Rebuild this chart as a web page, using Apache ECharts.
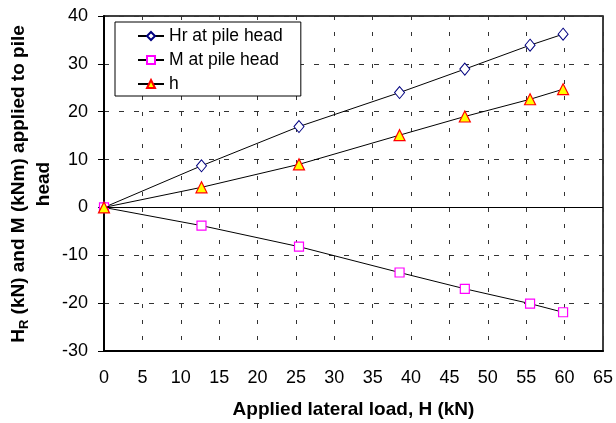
<!DOCTYPE html>
<html><head><meta charset="utf-8">
<script src="https://cdn.jsdelivr.net/npm/echarts@6/dist/echarts.min.js"></script>
<style>html,body{margin:0;padding:0;background:#fff}#c{width:616px;height:423px}</style>
</head><body><div id="c"></div>
<script>
const loads = [0, 12.7, 25.4, 38.5, 47, 55.5, 59.8];
const hrHead = [0, 8.7, 16.9, 24.0, 28.9, 33.9, 36.2];
const mHead = [0, -3.8, -8.2, -13.6, -17.0, -20.1, -21.9];
const hVals = [0, 4.2, 9.0, 15.1, 19.0, 22.6, 24.7];
const seriesNames = ['Hr at pile head', 'M at pile head', 'h'];
const yTitle = '{b|H}{s|R}{b| (kN) and M (kNm) applied to pile}\n{b|head}';
const xTitle = 'Applied lateral load, H (kN)';

const F = 'Liberation Sans, Arial, sans-serif';
const pair = (ys) => loads.map((x, i) => [x, ys[i]]);
const chart = echarts.init(document.getElementById('c'), null, {renderer: 'canvas'});
chart.setOption({
  animation: false,
  backgroundColor: '#fff',
  grid: {left: 104, right: 13, top: 16, bottom: 72, show: true, borderColor: '#000', borderWidth: 1.5,
    containLabel: false, outerBoundsMode: 'none'},
  graphic: [{
    type: 'text', x: 31, y: 184, rotation: Math.PI / 2, silent: true,
    style: {
      text: yTitle, align: 'center', verticalAlign: 'middle',
      fontFamily: F, fontSize: 19, fontWeight: 'bold', fill: '#000', lineHeight: 25,
      rich: {
        b: {fontFamily: F, fontSize: 19, fontWeight: 'bold', fill: '#000', lineHeight: 25, align: 'center'},
        s: {fontFamily: F, fontSize: 13, fontWeight: 'bold', fill: '#000', lineHeight: 25, verticalAlign: 'bottom', padding: [7, 0, 0, 0]}
      }
    }
  }],
  legend: {
    orient: 'vertical', left: 115, top: 22,
    data: seriesNames,
    backgroundColor: '#fff', borderColor: '#000', borderWidth: 1,
    padding: [5, 18, 3, 22], itemGap: 6, itemWidth: 26, itemHeight: 10,
    textStyle: {fontFamily: F, fontSize: 17.5, color: '#000'}
  },
  xAxis: {
    type: 'value', min: 0, max: 65, interval: 5,
    name: xTitle, nameLocation: 'middle', nameGap: 49,
    nameTextStyle: {fontFamily: F, fontSize: 19, fontWeight: 'bold', color: '#000'},
    axisLine: {show: true, onZero: false, lineStyle: {color: '#000', width: 2}},
    axisTick: {show: false},
    axisLabel: {fontFamily: F, fontSize: 18, color: '#000', margin: 18},
    splitLine: {show: true, lineStyle: {color: '#333', width: 1, type: [4, 12]}}
  },
  yAxis: {
    type: 'value', min: -30, max: 40, interval: 10,
    axisLine: {show: true, onZero: false, lineStyle: {color: '#000', width: 2}},
    axisTick: {show: true, inside: false, length: 6, lineStyle: {color: '#000', width: 1}},
    axisLabel: {fontFamily: F, fontSize: 18, color: '#000', margin: 16},
    splitLine: {show: true, lineStyle: {color: '#333', width: 1, type: [5, 10]}}
  },
  series: [
    {
      name: seriesNames[0], type: 'line', data: pair(hrHead),
      symbol: 'diamond', symbolSize: [10, 12], showAllSymbol: true,
      lineStyle: {color: '#000', width: 1},
      itemStyle: {color: '#fff', borderColor: '#000080', borderWidth: 1},
      markLine: {silent: true, symbol: 'none', label: {show: false},
        lineStyle: {color: '#000', width: 1, type: 'solid'}, data: [{yAxis: 0}]},
      z: 3
    },
    {
      name: seriesNames[1], type: 'line', data: pair(mHead),
      symbol: 'rect', symbolSize: 9,
      lineStyle: {color: '#000', width: 1},
      itemStyle: {color: '#fff', borderColor: '#FF00FF', borderWidth: 1.2},
      z: 4
    },
    {
      name: seriesNames[2], type: 'line', data: pair(hVals),
      symbol: 'triangle', symbolSize: 11,
      lineStyle: {color: '#000', width: 1},
      itemStyle: {color: '#FFFF00', borderColor: '#FF0000', borderWidth: 1.2},
      z: 5
    }
  ]
});
</script></body></html>
